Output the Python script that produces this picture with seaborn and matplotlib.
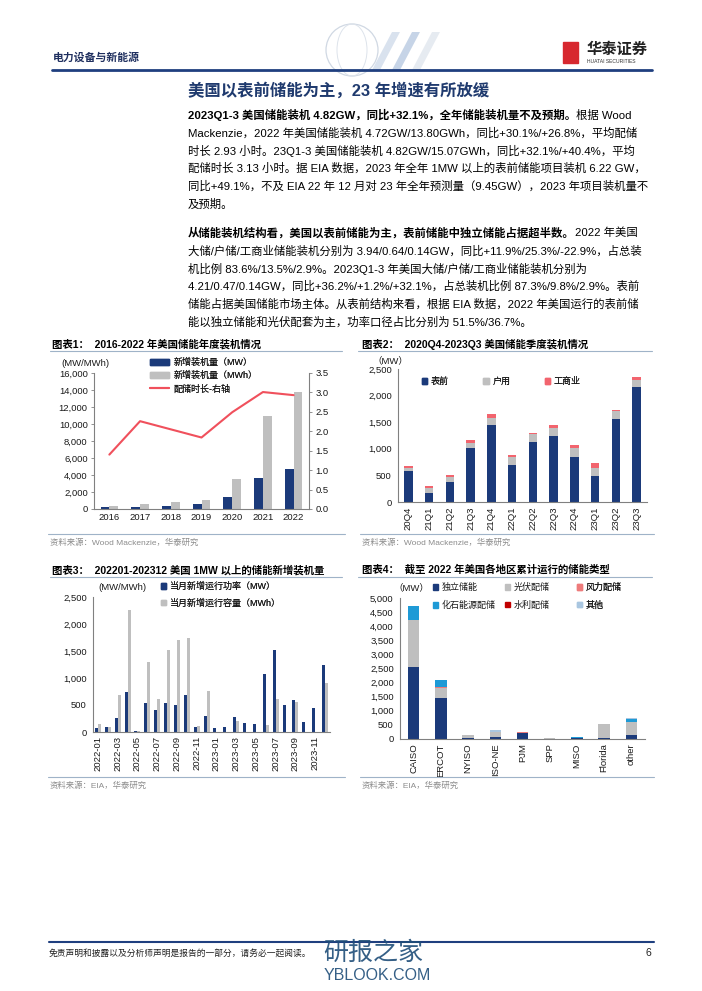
import numpy as np
import pandas as pd
import matplotlib
matplotlib.use("Agg")
import matplotlib.pyplot as plt
import seaborn as sns
from matplotlib.patches import Patch, Rectangle, Polygon, Ellipse
from matplotlib.lines import Line2D
from matplotlib.ticker import FuncFormatter

# ---------------- data ----------------
years = ['2016', '2017', '2018', '2019', '2020', '2021', '2022']
annual_mw = [235, 270, 390, 590, 1450, 3600, 4720]
annual_mwh = [350, 630, 780, 1060, 3530, 10900, 13800]
annual_duration = [1.40, 2.26, 2.05, 1.84, 2.49, 3.01, 2.93]

quarters = ['20Q4', '21Q1', '21Q2', '21Q3', '21Q4', '22Q1', '22Q2', '22Q3',
            '22Q4', '23Q1', '23Q2', '23Q3']
q_ftm = [590, 176, 370, 1010, 1438, 703, 1130, 1250, 854, 484, 1558, 2160]
q_res = [57, 88, 107, 107, 132, 139, 150, 150, 164, 163, 144, 125]
q_ci = [31, 38, 38, 50, 76, 38, 26, 45, 50, 82, 32, 63]

months = ['2022-01', '2022-02', '2022-03', '2022-04', '2022-05', '2022-06',
          '2022-07', '2022-08', '2022-09', '2022-10', '2022-11', '2022-12',
          '2023-01', '2023-02', '2023-03', '2023-04', '2023-05', '2023-06',
          '2023-07', '2023-08', '2023-09', '2023-10', '2023-11', '2023-12']
month_mw = [80, 87, 254, 743, 12, 538, 402, 538, 495, 687, 87, 297,
            68, 93, 272, 173, 149, 1071, 1516, 495, 600, 186, 439, 1238]
month_mwh = [155, 93, 680, 2259, 18, 1300, 613, 1516, 1702, 1745, 118, 761,
             0, 0, 204, 0, 0, 130, 613, 0, 551, 0, 0, 910]

regions = ['CAISO', 'ERCOT', 'NYISO', 'ISO-NE', 'PJM', 'SPP', 'MISO', 'Florida', 'other']
r_standalone = [2570, 1470, 35, 60, 225, 10, 30, 35, 140]
r_solar = [1660, 330, 95, 200, 0, 15, 0, 505, 450]
r_wind = [0, 60, 0, 0, 40, 0, 0, 0, 0]
r_fossil = [470, 240, 0, 0, 0, 0, 30, 0, 120]
r_hydro = [0, 0, 0, 0, 0, 0, 0, 0, 0]
r_other = [0, 0, 0, 60, 0, 0, 0, 0, 45]

# ---------------- style ----------------
sns.set_theme(style="white")
FAM = ['Liberation Sans', 'Noto Sans CJK SC']
plt.rcParams['font.family'] = FAM
plt.rcParams['axes.unicode_minus'] = False

NAVY = '#1B3A7A'
GRAY = '#BFBFBF'
RED = '#F0505C'
PINK = '#F2646E'
CYAN = '#1E9AD6'
DRED = '#C00000'
LBLUE = '#A9C6E0'
SALMON = '#EE7B7B'
TXT = '#1A1A1A'
AXC = '#808080'
SRC = '#8C8C8C'
HEADBLUE = '#1F3F7F'

W, H = 702, 991
fig = plt.figure(figsize=(W / 100, H / 100), dpi=100)
fig.patch.set_facecolor('white')


def fx(x):
    return x / W


def fy(y):
    return 1 - y / H


def make_ax(l, t, r, b):
    return fig.add_axes([fx(l), fy(b), (r - l) / W, (b - t) / H])


comma = FuncFormatter(lambda v, p: f'{v:,.0f}')


def style_ax(ax, n, rot=0, tick_every=1):
    for s in ['top', 'right']:
        ax.spines[s].set_visible(False)
    for s in ['left', 'bottom']:
        ax.spines[s].set_color(AXC)
        ax.spines[s].set_linewidth(0.8)
    ax.tick_params(axis='y', labelsize=6.8, colors=AXC, labelcolor=TXT,
                   length=2.5, width=0.6, direction='out', pad=2)
    ax.tick_params(axis='x', which='major', labelsize=6.8, colors=AXC,
                   labelcolor=TXT, length=0, pad=3, labelrotation=rot)
    ax.set_xticks(np.arange(-0.5, n, tick_every), minor=True)
    ax.tick_params(axis='x', which='minor', length=2.5, width=0.6,
                   colors=AXC, direction='out')
    ax.set_xlim(-0.5, n - 0.5)
    ax.set_xlabel('')
    ax.set_ylabel('')
    ax.yaxis.set_major_formatter(comma)


def place_legend(ax, handles, labels, x, y, **kw):
    opts = dict(loc='upper left', bbox_to_anchor=(fx(x), fy(y)),
                bbox_transform=fig.transFigure, frameon=False,
                fontsize=6.5, borderpad=0, borderaxespad=0,
                handletextpad=0.5)
    opts.update(kw)
    lg = ax.legend(handles, labels, **opts)
    for t in lg.get_texts():
        t.set_color(TXT)
    ax.add_artist(lg)
    return lg


# ---------------- header ----------------
# faint decorative globe / stripes
fig.add_artist(Ellipse((fx(352), fy(50)), 52 / W, 52 / H, fill=False, ec='#D0D8E3',
                       lw=0.9, transform=fig.transFigure))
fig.add_artist(Ellipse((fx(352), fy(50)), 30 / W, 52 / H, fill=False, ec='#DDE3EB',
                       lw=0.7, transform=fig.transFigure))
for x0, col in [(372, '#C9D6E8'), (392, '#AFC3DD'), (412, '#DCE3EC')]:
    fig.add_artist(Polygon([(fx(x0), fy(70)), (fx(x0 + 8), fy(70)),
                            (fx(x0 + 28), fy(32)), (fx(x0 + 20), fy(32))],
                           closed=True, color=col, alpha=0.7, lw=0,
                           transform=fig.transFigure))
fig.text(fx(53), fy(57), '电力设备与新能源', fontsize=7.8, fontweight='bold',
         color='#1F2F5F', va='center', ha='left')
fig.add_artist(Line2D([fx(52), fx(652)], [fy(70), fy(70)], color=HEADBLUE,
                      lw=2.0, transform=fig.transFigure))
fig.add_artist(Rectangle((fx(563), fy(63)), 15 / W, 21 / H, color='#D7282F',
                         transform=fig.transFigure))
fig.text(fx(587), fy(50), '华泰证券', fontsize=11, fontweight='bold',
         color='#222222', va='center', ha='left')
fig.text(fx(587), fy(61.5), 'HUATAI SECURITIES', fontsize=3.6,
         color='#333333', va='center', ha='left')

# ---------------- title & paragraphs ----------------
fig.text(fx(188), fy(90), '美国以表前储能为主，23 年增速有所放缓', fontsize=11.8,
         fontweight='bold', color='#1F3A6E', va='center', ha='left')

renderer = fig.canvas.get_renderer()
BODY = 8.2
X0 = 188


def line_with_bold(y, bold, rest):
    t = fig.text(fx(X0), fy(y), bold, fontsize=BODY, fontweight='bold',
                 color='black', va='center', ha='left')
    bb = t.get_window_extent(renderer)
    if rest:
        fig.text(bb.x1 / W, fy(y), rest, fontsize=BODY, color='black',
                 va='center', ha='left')


def plain(y, s):
    fig.text(fx(X0), fy(y), s, fontsize=BODY, color='black', va='center', ha='left')


p1 = [
    'Mackenzie，2022 年美国储能装机 4.72GW/13.80GWh，同比+30.1%/+26.8%，平均配储',
    '时长 2.93 小时。23Q1-3 美国储能装机 4.82GW/15.07GWh，同比+32.1%/+40.4%，平均',
    '配储时长 3.13 小时。据 EIA 数据，2023 年全年 1MW 以上的表前储能项目装机 6.22 GW，',
    '同比+49.1%，不及 EIA 22 年 12 月对 23 年全年预测量（9.45GW），2023 年项目装机量不',
    '及预期。',
]
p2 = [
    '大储/户储/工商业储能装机分别为 3.94/0.64/0.14GW，同比+11.9%/25.3%/-22.9%，占总装',
    '机比例 83.6%/13.5%/2.9%。2023Q1-3 年美国大储/户储/工商业储能装机分别为',
    '4.21/0.47/0.14GW，同比+36.2%/+1.2%/+32.1%，占总装机比例 87.3%/9.8%/2.9%。表前',
    '储能占据美国储能市场主体。从表前结构来看，根据 EIA 数据，2022 年美国运行的表前储',
    '能以独立储能和光伏配套为主，功率口径占比分别为 51.5%/36.7%。',
]
LS = 17.8
line_with_bold(115, '2023Q1-3 美国储能装机 4.82GW，同比+32.1%，全年储能装机量不及预期。', '根据 Wood')
for i, s in enumerate(p1):
    plain(115 + LS * (i + 1), s)
line_with_bold(233, '从储能装机结构看，美国以表前储能为主，表前储能中独立储能占据超半数。', '2022 年美国')
for i, s in enumerate(p2):
    plain(233 + LS * (i + 1), s)


# ---------------- chart frame texts ----------------
def chart_title(x, y, x0, x1, s):
    fig.text(fx(x), fy(y), s, fontsize=7.5, fontweight='bold', color='black',
             va='center', ha='left')
    fig.add_artist(Line2D([fx(x0), fx(x1)], [fy(y + 7), fy(y + 7)], color='#9FB3C8',
                          lw=0.8, transform=fig.transFigure))


def chart_source(x, y, x0, x1, s):
    fig.add_artist(Line2D([fx(x0), fx(x1)], [fy(y - 9), fy(y - 9)], color='#9FB3C8',
                          lw=0.8, transform=fig.transFigure))
    fig.text(fx(x), fy(y), s, fontsize=6, color=SRC, va='center', ha='left')


chart_title(52, 344, 50, 342, '图表1：  2016-2022 年美国储能年度装机情况')
chart_title(362, 344, 358, 652, '图表2：  2020Q4-2023Q3 美国储能季度装机情况')
chart_title(52, 570, 50, 342, '图表3：  202201-202312 美国 1MW 以上的储能新增装机量')
chart_title(362, 570, 358, 652, '图表4：  截至 2022 年美国各地区累计运行的储能类型')
chart_source(50, 543, 48, 345, '资料来源：Wood Mackenzie，华泰研究')
chart_source(362, 543, 360, 654, '资料来源：Wood Mackenzie，华泰研究')
chart_source(50, 786, 48, 345, '资料来源：EIA，华泰研究')
chart_source(362, 786, 360, 654, '资料来源：EIA，华泰研究')

# ---------------- chart 1 ----------------
ax1 = make_ax(94, 373, 309, 509)
df1 = pd.DataFrame({'year': years * 2,
                    'value': annual_mw + annual_mwh,
                    'series': ['MW'] * len(years) + ['MWh'] * len(years)})
sns.barplot(data=df1, x='year', y='value', hue='series', palette=[NAVY, GRAY],
            width=0.57, saturation=1, errorbar=None, legend=False,
            linewidth=0, ax=ax1)
ax1.set_ylim(0, 16000)
ax1.set_yticks(np.arange(0, 16001, 2000))
style_ax(ax1, len(years))
ax1b = ax1.twinx()
sns.pointplot(x=years, y=annual_duration, color=RED, markers='', linestyles='-',
              errorbar=None, ax=ax1b)
for ln in ax1b.lines:
    ln.set_linewidth(1.5)
ax1b.set_ylim(0, 3.5)
ax1b.set_yticks(np.arange(0, 3.51, 0.5))
ax1b.yaxis.set_major_formatter(FuncFormatter(lambda v, p: f'{v:.1f}'))
for s in ['top', 'left', 'bottom']:
    ax1b.spines[s].set_visible(False)
ax1b.spines['right'].set_color(AXC)
ax1b.spines['right'].set_linewidth(0.8)
ax1b.tick_params(axis='y', labelsize=6.8, colors=AXC, labelcolor=TXT,
                 length=2.5, width=0.6, pad=2)
ax1b.set_ylabel('')
ax1.set_xlim(-0.5, len(years) - 0.5)
fig.text(fx(61), fy(363), '(MW/MWh)', fontsize=6.8, color=TXT, va='center')
place_legend(ax1b,
             [Patch(color=NAVY), Patch(color=GRAY), Line2D([], [], color=RED, lw=1.5)],
             ['新增装机量（MW）', '新增装机量（MWh）', '配储时长-右轴'],
             150, 358, handlelength=2.1, handleheight=0.75, labelspacing=0.45)

# ---------------- chart 2 ----------------
ax2 = make_ax(398, 369, 647, 502)
c_ftm = np.array(q_ftm)
c_res = c_ftm + np.array(q_res)
c_ci = c_res + np.array(q_ci)
for vals, col in [(c_ci, PINK), (c_res, GRAY), (c_ftm, NAVY)]:
    sns.barplot(x=quarters, y=vals, color=col, width=0.4, saturation=1,
                errorbar=None, linewidth=0, order=quarters, ax=ax2)
ax2.set_ylim(0, 2500)
ax2.set_yticks(np.arange(0, 2501, 500))
style_ax(ax2, len(quarters), rot=90)
fig.text(fx(372), fy(361), '（MW）', fontsize=6.8, color=TXT, va='center')
place_legend(ax2, [Patch(color=NAVY), Patch(color=GRAY), Patch(color=PINK)],
             ['表前', '户用', '工商业'], 422, 377, ncol=3, handlelength=0.6,
             handleheight=0.6, handletextpad=0.4, columnspacing=3.8)

# ---------------- chart 3 ----------------
ax3 = make_ax(93, 597, 330, 732)
df3 = pd.DataFrame({'month': months * 2,
                    'value': month_mw + month_mwh,
                    'series': ['MW'] * len(months) + ['MWh'] * len(months)})
sns.barplot(data=df3, x='month', y='value', hue='series', palette=[NAVY, GRAY],
            width=0.6, saturation=1, errorbar=None, legend=False, linewidth=0,
            ax=ax3)
ax3.set_ylim(0, 2500)
ax3.set_yticks(np.arange(0, 2501, 500))
style_ax(ax3, len(months), rot=90, tick_every=2)
ax3.set_xticks(np.arange(0, len(months), 2))
ax3.set_xticklabels(months[::2])
fig.text(fx(98), fy(587), '(MW/MWh)', fontsize=6.8, color=TXT, va='center')
place_legend(ax3, [Patch(color=NAVY), Patch(color=GRAY)],
             ['当月新增运行功率（MW）', '当月新增运行容量（MWh）'], 161, 582,
             handlelength=0.6, handleheight=0.6, handletextpad=0.4, labelspacing=0.8)

# ---------------- chart 4 ----------------
ax4 = make_ax(400, 598, 645, 739)
layers = [r_standalone, r_solar, r_wind, r_fossil, r_hydro, r_other]
colors4 = [NAVY, GRAY, SALMON, CYAN, DRED, LBLUE]
cums = np.cumsum(np.array(layers), axis=0)
for i in range(len(layers) - 1, -1, -1):
    sns.barplot(x=regions, y=cums[i], color=colors4[i], width=0.42, saturation=1,
                errorbar=None, linewidth=0, order=regions, ax=ax4)
ax4.set_ylim(0, 5000)
ax4.set_yticks(np.arange(0, 5001, 500))
style_ax(ax4, len(regions), rot=90)
fig.text(fx(393), fy(588), '（MW）', fontsize=6.8, color=TXT, va='center')
labels4 = ['独立储能', '光伏配储', '风力配储', '化石能源配储', '水利配储', '其他']
for col, xpos in enumerate([433, 505, 577]):
    place_legend(ax4, [Patch(color=colors4[col]), Patch(color=colors4[col + 3])],
                 [labels4[col], labels4[col + 3]], xpos, 583,
                 handlelength=0.6, handleheight=0.6, handletextpad=0.4,
                 labelspacing=0.95)

# ---------------- footer ----------------
fig.add_artist(Line2D([fx(49), fx(654)], [fy(942), fy(942)], color=HEADBLUE,
                      lw=1.5, transform=fig.transFigure))
fig.text(fx(49), fy(953), '免责声明和披露以及分析师声明是报告的一部分，请务必一起阅读。',
         fontsize=6.3, style='italic', color='#222222', va='center', ha='left')
fig.text(fx(651), fy(953), '6', fontsize=7.5, color='#222222', va='center', ha='right')
fig.text(fx(323), fy(953), '研报之家', fontsize=18, color='#1F4E79', va='center',
         ha='left', alpha=0.9)
fig.text(fx(324), fy(976), 'YBLOOK.COM', fontsize=11.5, color='#1F4E79', va='center',
         ha='left', alpha=0.9)

fig.savefig('out.png', dpi=100, facecolor='white')
